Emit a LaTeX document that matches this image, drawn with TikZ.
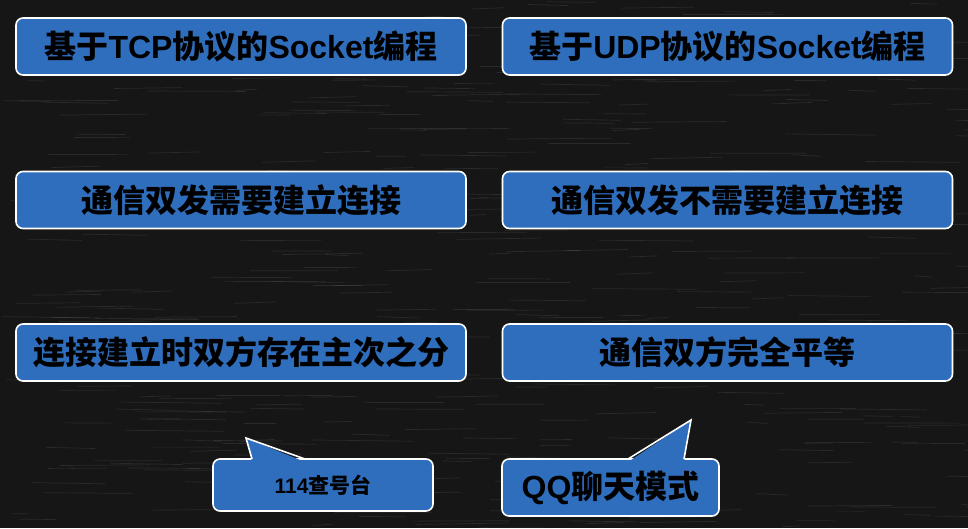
\documentclass[tikz,border=0pt]{standalone}
\usepackage{fontspec}
\setmainfont{Liberation Sans}
\newfontfamily\cjk{Noto Sans CJK SC}
\newcommand{\zh}[1]{{\cjk\bfseries #1}}
\definecolor{boxblue}{HTML}{2F6EBD}
\definecolor{board}{HTML}{161616}
\tikzset{
  blackboard/.style={fill=board, draw=none},
  boardbox/.style={draw=white, line width=1.6pt, fill=boxblue, rounded corners=7pt,
    minimum width=450pt, minimum height=57pt, inner sep=0pt, text=black,
    font=\fontsize{32}{36}\selectfont\bfseries},
  callbox/.style={draw=white, line width=1.6pt, fill=boxblue, rounded corners=7pt,
    inner sep=0pt, text=black, font=\bfseries},
  tailfill/.style={fill=boxblue, draw=none},
  tailedge/.style={draw=white, line width=1.6pt, line join=miter},
  streak/.style={draw=gray!70, line width=0.7pt, opacity=0.14}
}
\begin{document}
\begin{tikzpicture}[x=1pt,y=-1pt]
  \useasboundingbox (0,0) rectangle (968,528);
  \fill[blackboard] (0,0) rectangle (968,528);
  \pgfmathsetseed{7}
  \foreach \i in {1,...,420}{
    \pgfmathsetmacro\xa{rnd*968}
    \pgfmathsetmacro\ya{rnd*528}
    \pgfmathsetmacro\la{15+rnd*90}
    \pgfmathsetmacro\da{rnd*3-1.5}
    \draw[streak] (\xa,\ya) -- ++(\la,\da);
  }
  % row 1
  \node[boardbox] (tcp) at (241,46.5) {\zh{基于}TCP\zh{协议的}Socket\zh{编程}};
  \node[boardbox] (udp) at (727.5,46.5) {\zh{基于}UDP\zh{协议的}Socket\zh{编程}};
  % row 2
  \node[boardbox] (tcpconn) at (241,200) {\zh{通信双发需要建立连接}};
  \node[boardbox] (udpconn) at (727.5,200) {\zh{通信双发不需要建立连接}};
  % row 3
  \node[boardbox] (tcprole) at (241,352.5) {\zh{连接建立时双方存在主次之分}};
  \node[boardbox] (udprole) at (727.5,352.5) {\zh{通信双方完全平等}};
  % callout 1
  \node[callbox, minimum width=220pt, minimum height=52pt,
        font=\fontsize{21}{24}\selectfont\bfseries] (c1) at (323,485) {114\zh{查号台}};
  \coordinate (t1a) at (252,459);
  \coordinate (t1tip) at (246,438);
  \coordinate (t1b) at (305,459);
  \fill[tailfill] (252,462) -- (t1tip) -- (305,462) -- cycle;
  \draw[tailedge] (t1a) -- (t1tip) -- (t1b);
  % callout 2
  \node[callbox, minimum width=217pt, minimum height=57pt,
        font=\fontsize{32}{36}\selectfont\bfseries] (c2) at (610.5,487.5) {QQ\zh{聊天模式}};
  \coordinate (t2a) at (628,459);
  \coordinate (t2tip) at (691,420);
  \coordinate (t2b) at (684,459);
  \fill[tailfill] (628,462) -- (t2tip) -- (684,462) -- cycle;
  \draw[tailedge] (t2a) -- (t2tip) -- (t2b);
\end{tikzpicture}
\end{document}
